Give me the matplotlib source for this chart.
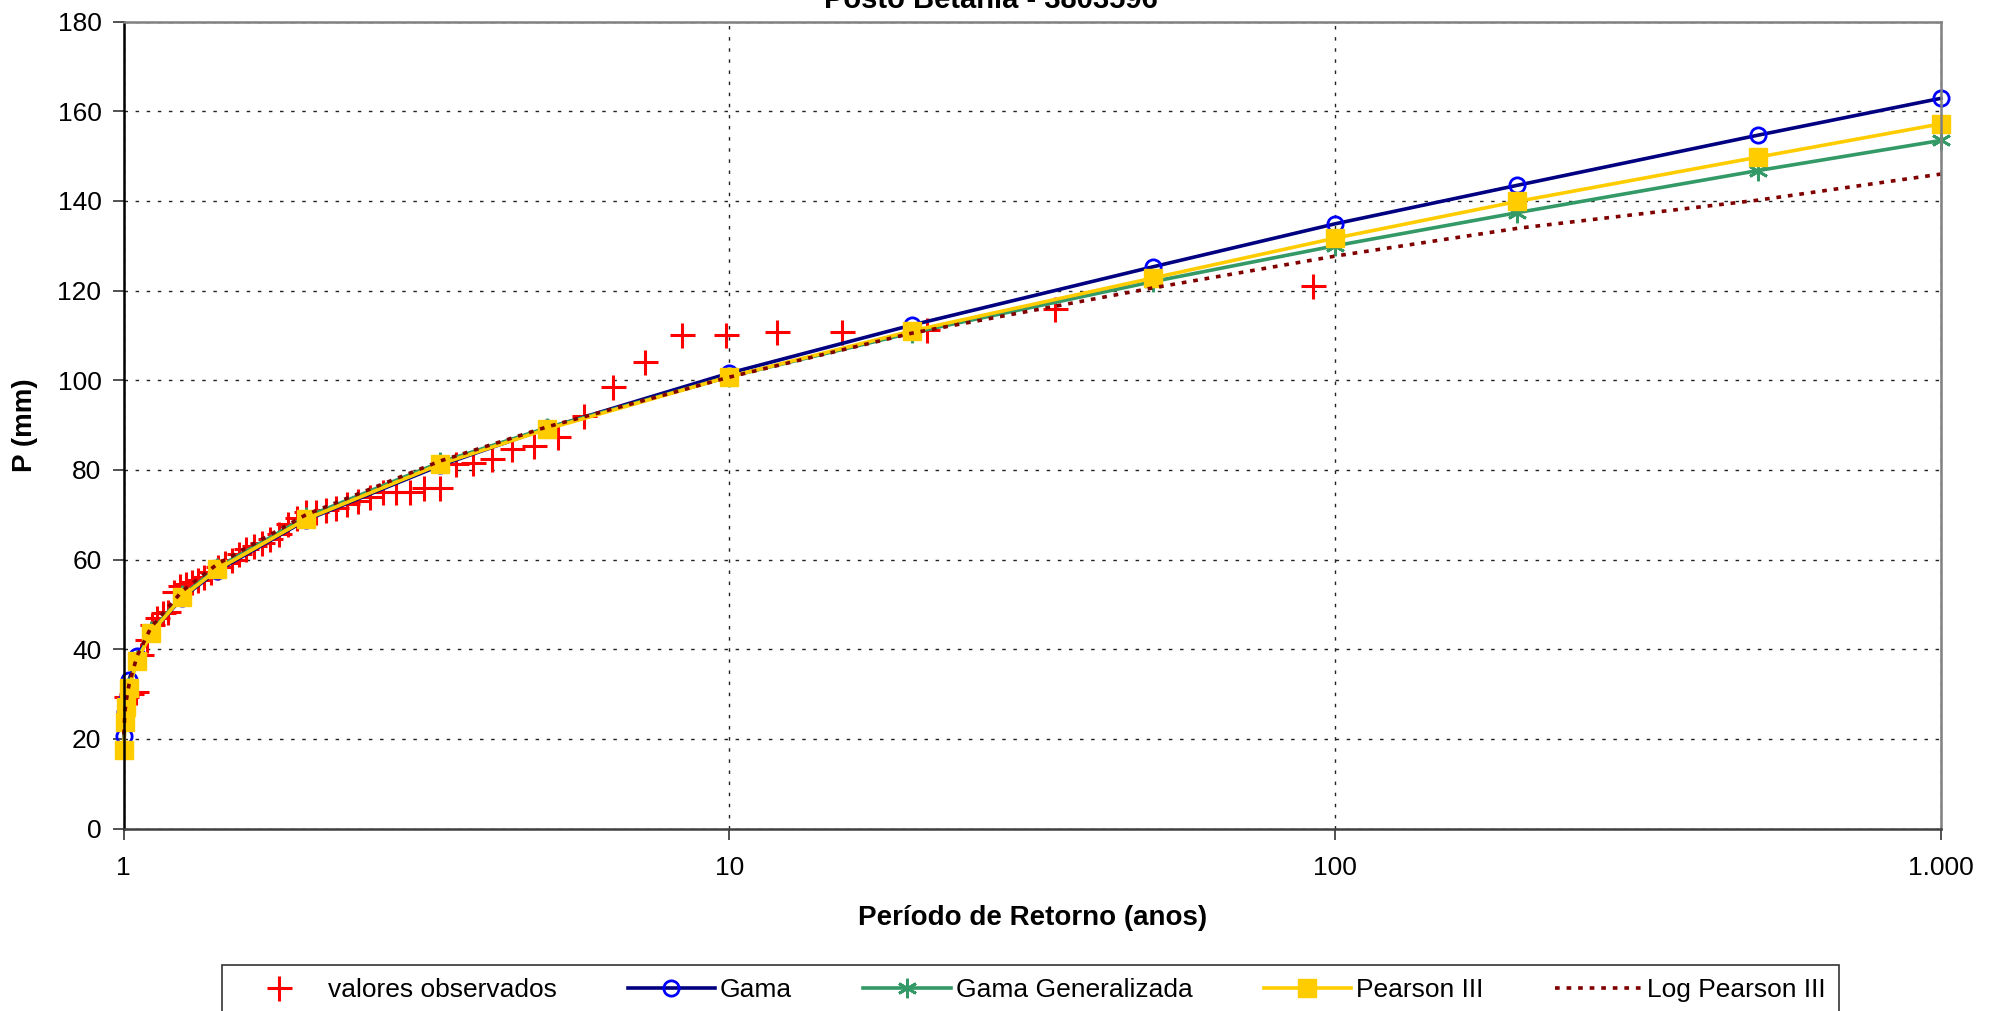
import matplotlib
matplotlib.use("Agg")
import matplotlib.pyplot as plt
from matplotlib.ticker import FixedLocator, FixedFormatter, NullLocator

plt.rcParams['font.family'] = ['Liberation Sans', 'DejaVu Sans']

# --- data ---
# observed values (plotting positions, anos)
obs_T = [92.0, 34.5, 21.23, 15.33, 12.0, 9.857, 8.364, 7.263, 6.419, 5.75,
         5.208, 4.759, 4.381, 4.059, 3.781, 3.538, 3.325, 3.136, 2.968, 2.816,
         2.68, 2.556, 2.442, 2.339, 2.244, 2.156, 2.075, 2.0, 1.93, 1.865,
         1.804, 1.747, 1.693, 1.643, 1.595, 1.55, 1.508, 1.468, 1.43, 1.394,
         1.36, 1.327, 1.296, 1.266, 1.238, 1.211, 1.184, 1.16, 1.136, 1.113,
         1.091, 1.07, 1.05, 1.03, 1.011]
obs_P = [121.0, 115.8, 111.2, 110.7, 110.7, 110.1, 110.1, 104.1, 98.6, 92.1,
         87.4, 85.3, 84.6, 82.4, 81.5, 81.3, 75.9, 75.9, 75.0, 75.0,
         75.0, 74.0, 73.1, 72.4, 71.6, 71.0, 70.7, 70.7, 69.2, 68.0,
         65.8, 64.6, 63.6, 63.0, 62.3, 61.2, 59.8, 59.2, 58.3, 57.3,
         56.2, 55.4, 55.0, 54.5, 54.0, 52.8, 48.4, 48.0, 47.0, 45.5,
         42.0, 38.7, 30.5, 30.0, 29.4]

# return periods of the fitted distributions
fit_T = [1.001, 1.005, 1.0101, 1.0204, 1.0526, 1.1111, 1.25, 1.4286, 2.0,
         3.3333, 5.0, 10.0, 20.0, 50.0, 100.0, 200.0, 500.0, 1000.0]
gama = [20.7, 26.0, 28.5, 33.1, 38.5, 43.7, 51.5, 57.5, 68.8,
        81.0, 89.3, 101.6, 112.3, 125.3, 134.9, 143.5, 154.7, 162.9]
gama_gen = [18.0, 24.0, 27.5, 31.5, 37.6, 44.0, 52.0, 58.2, 69.5,
            81.7, 89.4, 100.8, 110.6, 122.0, 130.0, 137.4, 146.8, 153.5]
pearson3 = [17.5, 23.8, 27.2, 31.3, 37.4, 43.7, 51.7, 57.8, 69.0,
            81.3, 89.1, 100.8, 111.0, 122.8, 131.7, 139.9, 149.8, 157.2]
log_pearson3 = [21.0, 26.0, 28.5, 32.0, 38.5, 45.0, 53.0, 59.0, 70.0,
                82.0, 89.6, 100.7, 110.5, 120.6, 127.7, 133.9, 140.2, 146.0]

x_ticks = [1, 10, 100, 1000]
x_labels = ['1', '10', '100', '1.000']
y_ticks = [0, 20, 40, 60, 80, 100, 120, 140, 160, 180]

W, H = 1998, 1011
fig = plt.figure(figsize=(W / 100, H / 100), dpi=100)
ax = fig.add_axes([123.6 / W, 1 - 828.5 / H, (1940.7 - 123.6) / W, (828.5 - 21.7) / H])

# series, in the order of the original workbook
ax.plot(obs_T, obs_P, linestyle='none', marker='+', color='#FF0000',
        markersize=18, markeredgewidth=2.2, label='valores observados', clip_on=False)
ax.plot(fit_T, gama, color='#000080', lw=2.6, marker='o', markersize=11,
        markerfacecolor='none', markeredgecolor='#0000FF', markeredgewidth=2.0,
        label='Gama', clip_on=False)
ax.plot(fit_T, gama_gen, color='#339966', lw=2.6, marker=(6, 2, 0), markersize=14,
        markeredgecolor='#339966', markeredgewidth=2.0,
        label='Gama Generalizada', clip_on=False)
ax.plot(fit_T, pearson3, color='#FFCC00', lw=2.6, marker='s', markersize=12.5,
        markerfacecolor='#FFCC00', markeredgecolor='#FFCC00',
        label='Pearson III', clip_on=False)
ax.plot(fit_T, log_pearson3, color='#800000', lw=2.6, linestyle=(0, (1.3, 1.9)),
        label='Log Pearson III', clip_on=False)

ax.set_xscale('log')
ax.set_xlim(1, 1000)
ax.set_ylim(0, 180)
ax.xaxis.set_major_locator(FixedLocator(x_ticks))
ax.xaxis.set_major_formatter(FixedFormatter(x_labels))
ax.xaxis.set_minor_locator(NullLocator())
ax.set_yticks(y_ticks)

ax.grid(True, which='major', color='#222222', lw=1.0, linestyle=(0, (2.5, 5.5)))
ax.set_axisbelow(True)

ax.tick_params(axis='both', direction='out', length=8, width=1.2, labelsize=19,
               color='#333333')
ax.tick_params(axis='y', pad=8)
ax.tick_params(axis='x', pad=12)

ax.spines['left'].set_color('black')
ax.spines['left'].set_linewidth(1.8)
ax.spines['bottom'].set_color('#404040')
ax.spines['bottom'].set_linewidth(1.8)
for s in ('top', 'right'):
    ax.spines[s].set_color('#808080')
    ax.spines[s].set_linewidth(1.8)

ax.set_xlabel('Período de Retorno (anos)', fontsize=20, fontweight='bold', labelpad=18)
ax.set_ylabel('P (mm)', fontsize=20, fontweight='bold', labelpad=14)

fig.text(991 / W, 1 - 7.5 / H, 'Posto Betania - 3803596', ha='center', va='baseline',
         fontsize=21, fontweight='bold')

leg = fig.legend(loc='upper center', ncol=5, mode='expand',
                 bbox_to_anchor=(222 / W, 1 - 1065 / H, 1617 / W, 100 / H),
                 bbox_transform=fig.transFigure, fontsize=19, frameon=True,
                 fancybox=False, shadow=False, handlelength=3.3, handletextpad=0.2,
                 borderpad=0.5, borderaxespad=0)
leg.get_frame().set_edgecolor('black')
leg.get_frame().set_linewidth(1.2)

fig.savefig('out.png', dpi=100)
